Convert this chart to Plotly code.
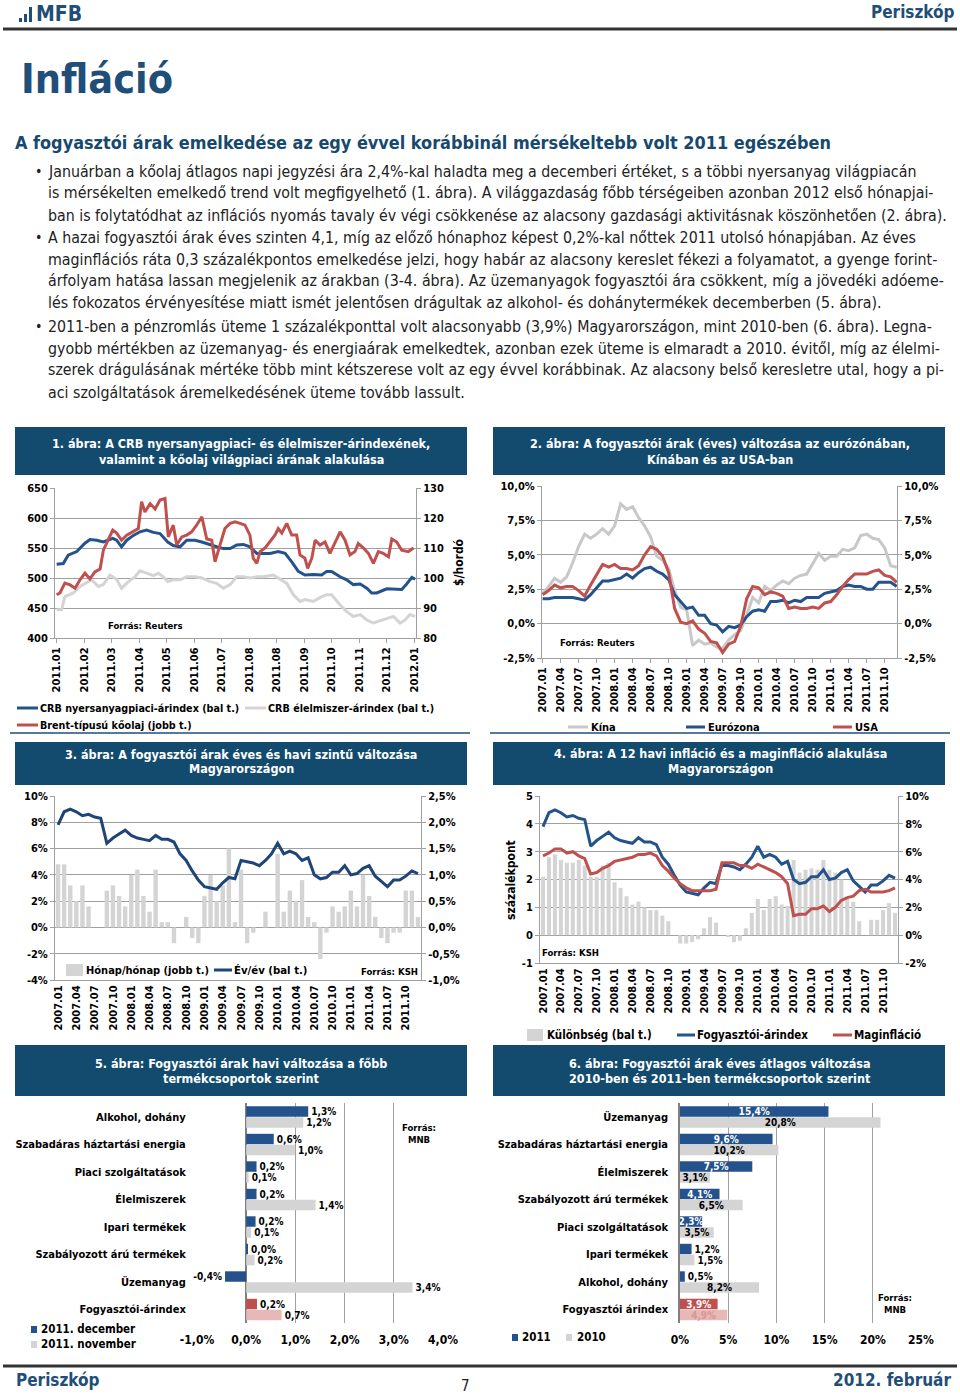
import plotly.graph_objects as go

W, H = 960, 1394

# ======================= DATA =======================
# 1. ábra  (x = position measured in tick-label intervals, 2011.01 = 0)
c1_tick_labels = ["2011.01", "2011.02", "2011.03", "2011.04", "2011.05", "2011.06", "2011.07",
                  "2011.08", "2011.08", "2011.09", "2011.10", "2011.11", "2011.12", "2012.01"]
c1_crb_x = [0, 0.24, 0.42, 0.73, 1.03, 1.21, 1.46, 1.70, 2.04, 2.18, 2.36, 2.55, 2.79, 3.03, 3.27,
            3.52, 3.76, 4.04, 4.24, 4.49, 4.73, 5.03, 5.28, 5.58, 5.82, 6.06, 6.31, 6.55, 6.79, 7.03,
            7.28, 7.52, 7.76, 8.06, 8.31, 8.55, 8.79, 9.03, 9.34, 9.64, 9.82, 10.00, 10.31, 10.55,
            10.79, 11.04, 11.28, 11.46, 11.64, 12.01, 12.37, 12.55, 12.73, 12.92, 13.04]
c1_crb = [523, 524, 538, 544, 558, 564, 563, 560, 566, 563, 552, 563, 571, 577, 580, 576, 574, 560,
          554, 552, 563, 563, 560, 555, 552, 549, 549, 555, 556, 552, 541, 541, 541, 544, 541, 527,
          511, 505, 506, 505, 511, 511, 502, 497, 489, 490, 483, 475, 475, 482, 482, 481, 490, 501, 498]
c1_food_x = [0, 0.18, 0.30, 0.61, 0.85, 1.03, 1.27, 1.52, 1.70, 1.94, 2.18, 2.36, 2.61, 2.85, 3.03,
             3.27, 3.52, 3.70, 3.88, 4.04, 4.24, 4.49, 4.73, 5.03, 5.28, 5.58, 5.82, 6.06, 6.31, 6.55,
             6.79, 7.03, 7.28, 7.52, 7.88, 8.06, 8.37, 8.61, 8.85, 9.03, 9.34, 9.64, 9.82, 10.00,
             10.31, 10.55, 10.79, 11.04, 11.28, 11.52, 11.76, 12.01, 12.25, 12.49, 12.67, 12.85, 13.04]
c1_food = [447, 447, 469, 475, 486, 491, 497, 486, 489, 505, 498, 483, 494, 502, 512, 508, 504, 508,
           502, 494, 497, 497, 502, 502, 500, 494, 491, 483, 489, 502, 502, 500, 502, 502, 505, 500,
           491, 472, 461, 464, 461, 469, 472, 472, 455, 444, 436, 439, 430, 425, 429, 433, 436, 425,
           430, 439, 436]
c1_brent_x = [0, 0.12, 0.30, 0.49, 0.67, 0.85, 1.03, 1.21, 1.39, 1.58, 1.70, 1.88, 2.04, 2.18, 2.36,
              2.55, 2.79, 2.97, 3.09, 3.21, 3.40, 3.58, 3.76, 3.94, 4.06, 4.24, 4.37, 4.55, 4.73,
              4.91, 5.09, 5.28, 5.46, 5.64, 5.76, 5.94, 6.12, 6.31, 6.49, 6.67, 6.85, 7.03, 7.15,
              7.28, 7.40, 7.58, 7.76, 7.94, 8.06, 8.19, 8.37, 8.55, 8.73, 8.85, 9.03, 9.13, 9.28,
              9.40, 9.58, 9.76, 9.94, 10.13, 10.31, 10.49, 10.67, 10.85, 10.97, 11.16, 11.34, 11.52,
              11.70, 11.88, 12.07, 12.19, 12.37, 12.55, 12.79, 12.98]
c1_brent = [94.4, 95, 98.3, 97.7, 96.6, 99.4, 101.6, 99.7, 102, 103, 109.3, 113, 116, 115, 112.6,
            114.3, 115.4, 116.5, 125.4, 122, 124.8, 123, 126, 126.5, 113.7, 117.6, 111, 113.7, 114.3,
            115.4, 117.6, 120.4, 113, 112.6, 105.4, 111, 116.5, 118.2, 118.7, 118.2, 117.6, 114.3,
            106.6, 104.9, 108.8, 110, 112, 114.3, 116.5, 115, 118.2, 114.3, 114.3, 107.7, 106.6,
            103.2, 106.6, 112.6, 111, 112, 108.2, 112, 115.4, 112.6, 107.7, 108.8, 111.5, 110, 108.2,
            104.9, 108.8, 108.2, 107.1, 113, 112, 109.3, 108.8, 110]

# monthly categories 2007.01 - 2011.12
months = [f"{y}.{m:02d}" for y in range(2007, 2012) for m in range(1, 13)]

# 2. ábra
c2_china = [2.2, 2.7, 3.3, 3.0, 3.4, 4.4, 5.6, 6.5, 6.2, 6.5, 6.9, 6.5,
            7.1, 8.7, 8.3, 8.5, 7.7, 7.1, 6.3, 4.9, 4.6, 4.0, 2.4, 1.2,
            1.0, -1.6, -1.2, -1.5, -1.4, -1.7, -1.8, -1.2, -0.8, -0.5, 0.6, 1.9,
            1.5, 2.7, 2.4, 2.8, 3.1, 2.9, 3.3, 3.5, 3.6, 4.4, 5.1, 4.6,
            4.9, 4.9, 5.4, 5.3, 5.5, 6.4, 6.5, 6.2, 6.1, 5.5, 4.2, 4.1]
c2_euro = [1.8, 1.8, 1.9, 1.9, 1.9, 1.9, 1.8, 1.7, 2.1, 2.6, 3.1, 3.1,
           3.2, 3.3, 3.6, 3.3, 3.7, 4.0, 4.1, 3.8, 3.6, 3.2, 2.1, 1.6,
           1.1, 1.2, 0.6, 0.6, 0.0, -0.1, -0.6, -0.2, -0.3, -0.1, 0.5, 0.9,
           1.0, 0.9, 1.6, 1.6, 1.7, 1.5, 1.7, 1.6, 1.9, 1.9, 1.9, 2.2,
           2.3, 2.4, 2.7, 2.8, 2.7, 2.7, 2.5, 2.5, 3.0, 3.0, 3.0, 2.7]
c2_usa = [2.1, 2.4, 2.8, 2.6, 2.7, 2.7, 2.4, 2.0, 2.8, 3.5, 4.3, 4.1,
          4.3, 4.0, 4.0, 3.9, 4.2, 5.0, 5.6, 5.4, 4.9, 3.7, 1.1, 0.1,
          0.0, 0.2, -0.4, -0.7, -1.3, -1.4, -2.1, -1.5, -1.3, -0.2, 1.8, 2.7,
          2.6, 2.1, 2.3, 2.2, 2.0, 1.1, 1.2, 1.1, 1.1, 1.2, 1.1, 1.5,
          1.6, 2.1, 2.7, 3.2, 3.6, 3.6, 3.6, 3.8, 3.9, 3.5, 3.4, 3.0]

# 3. és 4. ábra (Magyarország)
hu_cpi_yoy = [7.8, 8.8, 9.0, 8.8, 8.5, 8.6, 8.4, 8.3, 6.4, 6.8, 7.1, 7.4,
              7.0, 6.8, 6.7, 6.6, 7.0, 6.7, 6.7, 6.5, 5.6, 5.1, 4.3, 3.6,
              3.1, 3.0, 2.9, 3.4, 3.8, 3.7, 5.1, 5.0, 4.9, 4.7, 5.1, 5.6,
              6.4, 5.6, 5.8, 5.6, 5.1, 5.3, 4.0, 3.7, 3.8, 4.2, 4.2, 4.7,
              4.0, 4.1, 4.5, 4.7, 3.9, 3.5, 3.1, 3.6, 3.6, 3.9, 4.3, 4.1]
hu_cpi_mom = [1.2, 1.2, 0.8, 0.5, 0.8, 0.4, 0.0, 0.0, 0.7, 0.8, 0.6, 0.4,
              1.0, 1.1, 0.6, 0.3, 1.1, 0.1, 0.1, -0.3, 0.0, 0.2, -0.2, -0.3,
              0.6, 1.0, 0.5, 0.8, 1.5, 0.1, 1.1, -0.3, -0.1, 0.0, 0.3, 0.0,
              1.4, 0.3, 0.7, 0.5, 0.9, 0.2, 0.1, -0.6, -0.1, 0.4, 0.3, 0.4,
              0.7, 0.4, 1.0, 0.6, 0.2, -0.2, -0.3, -0.1, -0.1, 0.7, 0.7, 0.2]
hu_core = [5.7, 5.9, 6.2, 6.2, 5.9, 6.0, 5.7, 5.5, 4.4, 4.5, 4.8, 5.0,
           5.3, 5.4, 5.5, 5.6, 5.8, 5.8, 5.9, 5.7, 5.0, 4.6, 4.1, 3.7,
           3.4, 3.2, 3.2, 3.2, 3.2, 3.3, 5.2, 5.2, 5.2, 5.0, 5.0, 4.8,
           5.1, 4.9, 4.7, 4.5, 4.2, 3.7, 1.4, 1.5, 1.5, 1.9, 1.9, 2.1,
           1.7, 2.0, 2.5, 2.7, 2.8, 3.2, 3.3, 3.1, 3.1, 3.1, 3.2, 3.4]
hu_diff = [2.1, 2.8, 2.9, 2.7, 2.6, 2.6, 2.7, 2.5, 2.1, 2.1, 2.5, 2.6,
           1.9, 1.7, 1.4, 1.1, 1.2, 1.0, 0.9, 0.9, 0.7, 0.5, 0.0, -0.3,
           -0.3, -0.25, -0.15, 0.25, 0.65, 0.45, 0.0, -0.05, -0.25, -0.2, 0.25, 0.8,
           1.3, 0.9, 1.3, 1.4, 1.1, 1.05, 2.7, 2.25, 2.35, 2.4, 2.35, 2.7,
           2.35, 2.25, 2.0, 1.3, 1.2, 0.5, 0.0, 0.55, 0.55, 0.9, 1.15, 0.8]

# 5. ábra
c5_cats = ["Alkohol, dohány", "Szabadáras háztartási energia", "Piaci szolgáltatások",
           "Élelmiszerek", "Ipari termékek", "Szabályozott árú termékek", "Üzemanyag",
           "Fogyasztói-árindex"]
c5_dec = [1.26, 0.56, 0.21, 0.21, 0.19, 0.03, -0.43, 0.22]
c5_nov = [1.16, 0.99, 0.05, 1.41, 0.1, 0.17, 3.38, 0.72]
c5_dec_labels = ["1,3%", "0,6%", "0,2%", "0,2%", "0,2%", "0,0%", "-0,4%", "0,2%"]
c5_nov_labels = ["1,2%", "1,0%", "0,1%", "1,4%", "0,1%", "0,2%", "3,4%", "0,7%"]

# 6. ábra
c6_cats = ["Üzemanyag", "Szabadáras háztartási energia", "Élelmiszerek",
           "Szabályozott árú termékek", "Piaci szolgáltatások", "Ipari termékek",
           "Alkohol, dohány", "Fogyasztói árindex"]
c6_2011 = [15.4, 9.6, 7.5, 4.1, 2.3, 1.2, 0.5, 3.9]
c6_2010 = [20.8, 10.2, 3.1, 6.5, 3.5, 1.5, 8.2, 4.9]

# ======================= STYLE =======================
CF = "DejaVu Sans Condensed, DejaVu Sans, sans-serif"   # chart font
BF = "DejaVu Sans Condensed, DejaVu Sans, sans-serif"   # body font
NAVY = "#1F4E79"
HEAD = "#124B6E"
BLUE = "#24528C"
DBLUE = "#1F4478"
RED = "#C0504D"
PINK = "#E6B9B8"
LGRAY = "#D4D4D4"
KGRAY = "#C8C8C8"
GRID = "#A0A0A0"
TF = dict(family=CF, size=11, color="#000000", weight="bold")


def X(v):
    return v / W


def Y(v):
    return 1 - v / H


def xdom(l, r):
    return [X(l), X(r)]


def ydom(t, b):
    return [Y(b), Y(t)]


def fmt_pct(v):
    return f"{v:.1f}".replace(".", ",") + "%"


def yax(dom, anchor, rng, vals, texts, side="left", overlaying=None, grid=True, ticks="outside"):
    d = dict(domain=dom, anchor=anchor, range=rng, tickvals=vals, ticktext=texts, side=side,
             showgrid=grid, gridcolor=GRID, gridwidth=1, zeroline=False, showline=True,
             linecolor=GRID, linewidth=1, ticks=ticks, ticklen=4, tickcolor=GRID,
             tickfont=TF, fixedrange=True, automargin=False)
    if overlaying:
        d["overlaying"] = overlaying
    return d


def xax(dom, anchor, rng, vals, texts, typ="linear", angle=-90, ticks="outside"):
    return dict(domain=dom, anchor=anchor, range=rng, type=typ, tickvals=vals, ticktext=texts,
                tickangle=angle, showgrid=False, zeroline=False, showline=True, linecolor=GRID,
                linewidth=1, ticks=ticks, ticklen=4, tickcolor=GRID, tickfont=TF, fixedrange=True,
                automargin=False)


annotations = []
shapes = []


def txt(text, x, y, size=11, color="#000000", bold=True, xanchor="left", yanchor="middle",
        angle=0, family=CF, align="left"):
    annotations.append(dict(text=f"<b>{text}</b>" if bold else text, x=X(x), y=Y(y),
                            xref="paper", yref="paper", showarrow=False, xanchor=xanchor,
                            yanchor=yanchor, textangle=angle, align=align,
                            font=dict(family=family, size=size, color=color)))


def hline(x0, x1, y, color, width=3):
    shapes.append(dict(type="line", xref="paper", yref="paper", x0=X(x0), x1=X(x1),
                       y0=Y(y), y1=Y(y), line=dict(color=color, width=width)))


def box(x0, y0, x1, y1, color):
    shapes.append(dict(type="rect", xref="paper", yref="paper", x0=X(x0), x1=X(x1),
                       y0=Y(y1), y1=Y(y0), fillcolor=color, line=dict(width=0), layer="below"))


fig = go.Figure()

# ---------------- Chart 1 ----------------
fig.add_trace(go.Scatter(x=c1_food_x, y=c1_food, mode="lines", line=dict(color=LGRAY, width=3),
                         xaxis="x", yaxis="y", hoverinfo="skip"))
fig.add_trace(go.Scatter(x=c1_crb_x, y=c1_crb, mode="lines", line=dict(color=BLUE, width=3),
                         xaxis="x", yaxis="y", hoverinfo="skip"))
fig.add_trace(go.Scatter(x=c1_brent_x, y=c1_brent, mode="lines", line=dict(color=RED, width=3),
                         xaxis="x", yaxis="y2", hoverinfo="skip"))

# ---------------- Chart 2 ----------------
fig.add_trace(go.Scatter(x=months, y=c2_china, mode="lines", line=dict(color=KGRAY, width=3),
                         xaxis="x2", yaxis="y3", hoverinfo="skip"))
fig.add_trace(go.Scatter(x=months, y=c2_euro, mode="lines", line=dict(color=BLUE, width=3),
                         xaxis="x2", yaxis="y3", hoverinfo="skip"))
fig.add_trace(go.Scatter(x=months, y=c2_usa, mode="lines", line=dict(color=RED, width=3),
                         xaxis="x2", yaxis="y4", hoverinfo="skip"))

# ---------------- Chart 3 ----------------
fig.add_trace(go.Bar(x=months, y=hu_cpi_mom, marker=dict(color=LGRAY, line=dict(width=0)),
                     width=0.72, xaxis="x3", yaxis="y5", hoverinfo="skip"))
fig.add_trace(go.Scatter(x=months, y=hu_cpi_yoy, mode="lines", line=dict(color=DBLUE, width=3),
                         xaxis="x3", yaxis="y6", hoverinfo="skip"))

# ---------------- Chart 4 ----------------
fig.add_trace(go.Bar(x=months, y=hu_diff, marker=dict(color=LGRAY, line=dict(width=0)),
                     width=0.68, xaxis="x4", yaxis="y7", hoverinfo="skip"))
fig.add_trace(go.Scatter(x=months, y=hu_cpi_yoy, mode="lines", line=dict(color=BLUE, width=3),
                         xaxis="x4", yaxis="y8", hoverinfo="skip"))
fig.add_trace(go.Scatter(x=months, y=hu_core, mode="lines", line=dict(color=RED, width=3),
                         xaxis="x4", yaxis="y8", hoverinfo="skip"))

# ---------------- Chart 5 ----------------
c5_dec_colors = [BLUE] * 7 + [RED]
c5_nov_colors = [LGRAY] * 7 + [PINK]
fig.add_trace(go.Bar(y=c5_cats, x=c5_dec, orientation="h", width=0.38, offset=-0.38,
                     marker=dict(color=c5_dec_colors, line=dict(width=0)), text=c5_dec_labels,
                     textposition="outside", constraintext="none", cliponaxis=False,
                     textfont=dict(family=CF, size=10, color="#000", weight="bold"),
                     xaxis="x5", yaxis="y9", hoverinfo="skip"))
fig.add_trace(go.Bar(y=c5_cats, x=c5_nov, orientation="h", width=0.38, offset=0.02,
                     marker=dict(color=c5_nov_colors, line=dict(width=0)), text=c5_nov_labels,
                     textposition="outside", constraintext="none", cliponaxis=False,
                     textfont=dict(family=CF, size=10, color="#000", weight="bold"),
                     xaxis="x5", yaxis="y9", hoverinfo="skip"))

# ---------------- Chart 6 ----------------
c6_11_colors = [BLUE] * 7 + [RED]
c6_10_colors = [LGRAY] * 7 + [PINK]
c6_11_pos = ["inside", "inside", "inside", "inside", "inside", "outside", "outside", "inside"]
c6_10_pos = ["inside", "inside", "inside", "inside", "inside", "outside", "inside", "inside"]
c6_11_tc = ["white"] * 5 + ["#000", "#000", "white"]
c6_10_tc = ["#000"] * 7 + ["#D99694"]
fig.add_trace(go.Bar(y=c6_cats, x=c6_2011, orientation="h", width=0.38, offset=-0.38,
                     marker=dict(color=c6_11_colors, line=dict(width=0)),
                     text=[fmt_pct(v) for v in c6_2011], textposition=c6_11_pos,
                     insidetextanchor="middle", constraintext="none", cliponaxis=False,
                     textfont=dict(family=CF, size=10, color=c6_11_tc, weight="bold"),
                     xaxis="x6", yaxis="y10", hoverinfo="skip"))
fig.add_trace(go.Bar(y=c6_cats, x=c6_2010, orientation="h", width=0.38, offset=0.02,
                     marker=dict(color=c6_10_colors, line=dict(width=0)),
                     text=[fmt_pct(v) for v in c6_2010], textposition=c6_10_pos,
                     insidetextanchor="middle", constraintext="none", cliponaxis=False,
                     textfont=dict(family=CF, size=10, color=c6_10_tc, weight="bold"),
                     xaxis="x6", yaxis="y10", hoverinfo="skip"))

# ======================= AXES =======================
lay = {}
# chart 1
lay["xaxis"] = xax(xdom(55, 416), "y", [-0.06, 13.07], list(range(len(c1_tick_labels))),
                   c1_tick_labels)
lay["yaxis"] = yax(ydom(488, 638), "x", [400, 650], [400, 450, 500, 550, 600, 650],
                   ["400", "450", "500", "550", "600", "650"])
lay["yaxis2"] = yax(ydom(488, 638), "x", [80, 130], [80, 90, 100, 110, 120, 130],
                    ["80", "90", "100", "110", "120", "130"], side="right", overlaying="y",
                    grid=False)
# chart 2
lay["xaxis2"] = xax(xdom(542, 897), "y3", [-0.1, 59.05], months[::3], months[::3], typ="category")
c2_vals = [-2.5, 0, 2.5, 5, 7.5, 10]
c2_txt = ["-2,5%", "0,0%", "2,5%", "5,0%", "7,5%", "10,0%"]
lay["yaxis3"] = yax(ydom(486, 658), "x2", [-2.5, 10], c2_vals, c2_txt)
lay["yaxis4"] = yax(ydom(486, 658), "x2", [-2.5, 10], c2_vals, c2_txt, side="right",
                    overlaying="y3", grid=False)
# chart 3
lay["xaxis3"] = xax(xdom(55, 421), "y5", [-0.5, 59.5], months[::3], months[::3], typ="category",
                    ticks="")
lay["yaxis5"] = yax(ydom(796, 980), "x3", [-1, 2.5], [-1, -0.5, 0, 0.5, 1, 1.5, 2, 2.5],
                    ["-1,0%", "-0,5%", "0,0%", "0,5%", "1,0%", "1,5%", "2,0%", "2,5%"],
                    side="right")
lay["yaxis6"] = yax(ydom(796, 980), "x3", [-4, 10], [-4, -2, 0, 2, 4, 6, 8, 10],
                    ["-4%", "-2%", "0%", "2%", "4%", "6%", "8%", "10%"], side="left",
                    overlaying="y5", grid=False)
# chart 4
lay["xaxis4"] = xax(xdom(540, 898), "y7", [-0.5, 59.5], months[::3], months[::3], typ="category",
                    ticks="")
lay["yaxis7"] = yax(ydom(796, 963), "x4", [-1, 5], [-1, 0, 1, 2, 3, 4, 5],
                    ["-1", "0", "1", "2", "3", "4", "5"], side="left")
lay["yaxis8"] = yax(ydom(796, 963), "x4", [-2, 10], [-2, 0, 2, 4, 6, 8, 10],
                    ["-2%", "0%", "2%", "4%", "6%", "8%", "10%"], side="right",
                    overlaying="y7", grid=False)
# chart 5
lay["xaxis5"] = dict(domain=xdom(197, 443), anchor="y9", range=[-1, 4],
                     tickvals=[-1, 0, 1, 2, 3, 4],
                     ticktext=["-1,0%", "0,0%", "1,0%", "2,0%", "3,0%", "4,0%"],
                     showgrid=True, gridcolor=GRID, zeroline=True, zerolinecolor="#808080",
                     zerolinewidth=1.5, showline=False, ticks="outside", ticklen=6,
                     tickcolor="rgba(0,0,0,0)", tickfont=dict(family=CF, size=12, color="#000",
                                                               weight="bold"),
                     fixedrange=True, automargin=False)
lay["yaxis9"] = dict(domain=ydom(1103, 1323), anchor="x5", type="category", autorange="reversed",
                     showgrid=False, zeroline=False, showline=False, ticks="outside", ticklen=8,
                     tickcolor="rgba(0,0,0,0)", tickfont=dict(family=CF, size=11, color="#000",
                                                               weight="bold"),
                     fixedrange=True, automargin=False)
# chart 6
lay["xaxis6"] = dict(domain=xdom(680, 921), anchor="y10", range=[0, 25],
                     tickvals=[0, 5, 10, 15, 20, 25],
                     ticktext=["0%", "5%", "10%", "15%", "20%", "25%"],
                     showgrid=True, gridcolor=GRID, zeroline=False, showline=False,
                     ticks="outside", ticklen=6, tickcolor="rgba(0,0,0,0)",
                     tickfont=dict(family=CF, size=12, color="#000", weight="bold"),
                     fixedrange=True, automargin=False)
lay["yaxis10"] = dict(domain=ydom(1103, 1323), anchor="x6", type="category", autorange="reversed",
                      showgrid=False, zeroline=False, showline=True, linecolor="#808080",
                      linewidth=1.5, ticks="outside", ticklen=8, tickcolor="rgba(0,0,0,0)",
                      tickfont=dict(family=CF, size=11, color="#000", weight="bold"),
                      fixedrange=True, automargin=False)

# ======================= PAGE DECORATION =======================
# top header logo
shapes.append(dict(type="rect", xref="paper", yref="paper", x0=X(19), x1=X(22), y0=Y(22), y1=Y(18),
                   fillcolor=NAVY, line=dict(width=0)))
shapes.append(dict(type="rect", xref="paper", yref="paper", x0=X(24), x1=X(27), y0=Y(22), y1=Y(14),
                   fillcolor=NAVY, line=dict(width=0)))
shapes.append(dict(type="rect", xref="paper", yref="paper", x0=X(29), x1=X(32), y0=Y(22), y1=Y(7),
                   fillcolor=NAVY, line=dict(width=0)))
txt("MFB", 34, 14, size=21, color=NAVY, family=BF)
txt("Periszkóp", 957, 12, size=17, color=NAVY, xanchor="right", family=BF)
hline(3, 957, 29, "#333333", width=3)

txt("Infláció", 19, 79, size=41, color=NAVY, family=BF)
txt("A fogyasztói árak emelkedése az egy évvel korábbinál mérsékeltebb volt 2011 egészében",
    13, 143, size=17.9, color="#17496E", family=BF)

body_lines = [
    (171, True, "Januárban a kőolaj átlagos napi jegyzési ára 2,4%-kal haladta meg a decemberi értéket, s a többi nyersanyag világpiacán"),
    (193, False, "is mérsékelten emelkedő trend volt megfigyelhető (1. ábra). A világgazdaság főbb térségeiben azonban 2012 első hónapjai-"),
    (215, False, "ban is folytatódhat az inflációs nyomás tavaly év végi csökkenése az alacsony gazdasági aktivitásnak köszönhetően (2. ábra)."),
    (237, True, "A hazai fogyasztói árak éves szinten 4,1, míg az előző hónaphoz képest 0,2%-kal nőttek 2011 utolsó hónapjában. Az éves"),
    (259, False, "maginflációs ráta 0,3 százalékpontos emelkedése jelzi, hogy habár az alacsony kereslet fékezi a folyamatot, a gyenge forint-"),
    (281, False, "árfolyam hatása lassan megjelenik az árakban (3-4. ábra). Az üzemanyagok fogyasztói ára csökkent, míg a jövedéki adóeme-"),
    (303, False, "lés fokozatos érvényesítése miatt ismét jelentősen drágultak az alkohol- és dohánytermékek decemberben (5. ábra)."),
    (326, True, "2011-ben a pénzromlás üteme 1 százalékponttal volt alacsonyabb (3,9%) Magyarországon, mint 2010-ben (6. ábra). Legna-"),
    (348, False, "gyobb mértékben az üzemanyag- és energiaárak emelkedtek, azonban ezek üteme is elmaradt a 2010. évitől, míg az élelmi-"),
    (370, False, "szerek drágulásának mértéke több mint kétszerese volt az egy évvel korábbinak. Az alacsony belső keresletre utal, hogy a pi-"),
    (392, False, "aci szolgáltatások áremelkedésének üteme tovább lassult."),
]
for yy, bullet, line in body_lines:
    if bullet:
        txt("•", 33, yy, size=14, color="#222222", bold=False, family=BF)
    txt(line, 46, yy, size=15.8, color="#222222", bold=False, family=BF)

# chart headers
headers = [
    (15, 467, 427, 475, 241, 444, 459, "1. ábra: A CRB nyersanyagpiaci- és élelmiszer-árindexének,",
     "valamint a kőolaj világpiaci árának alakulása"),
    (493, 945, 427, 475, 720, 444, 459, "2. ábra: A fogyasztói árak (éves) változása az eurózónában,",
     "Kínában és az USA-ban"),
    (15, 467, 742, 785, 241, 754, 768, "3. ábra: A fogyasztói árak éves és havi szintű változása",
     "Magyarországon"),
    (493, 945, 742, 785, 720, 753, 768, "4. ábra: A 12 havi infláció és a maginfláció alakulása",
     "Magyarországon"),
    (15, 467, 1045, 1096, 241, 1063, 1078, "5. ábra: Fogyasztói árak havi változása a főbb",
     "termékcsoportok szerint"),
    (493, 945, 1045, 1096, 720, 1063, 1078, "6. ábra: Fogyasztói árak éves átlagos változása",
     "2010-ben és 2011-ben termékcsoportok szerint"),
]
for x0, x1, y0, y1, cx, l1y, l2y, t1, t2 in headers:
    box(x0, y0, x1, y1, HEAD)
    txt(t1, cx, l1y, size=12.5, color="white", xanchor="center")
    txt(t2, cx, l2y, size=12.5, color="white", xanchor="center")

# chart 1 extras
txt("$/hordó", 459, 563, size=12, angle=-90, xanchor="center")
txt("Forrás: Reuters", 145, 625, size=9.5, xanchor="center")
hline(17, 38, 708, BLUE)
txt("CRB nyersanyagpiaci-árindex (bal t.)", 38, 708, size=10.7)
hline(245, 266, 708, LGRAY)
txt("CRB élelmiszer-árindex (bal t.)", 266, 708, size=10.7)
hline(17, 38, 725, RED)
txt("Brent-típusú kőolaj (jobb t.)", 38, 725, size=10.7)
hline(10, 470, 733, NAVY, width=1.5)

# chart 2 extras
txt("Forrás: Reuters", 597, 642, size=9.5, xanchor="center")
hline(568, 588, 727, KGRAY)
txt("Kína", 589, 727, size=11)
hline(686, 705, 727, BLUE)
txt("Eurózona", 706, 727, size=11)
hline(833, 852, 727, RED)
txt("USA", 853, 727, size=11)
hline(490, 950, 733, NAVY, width=1.5)

# chart 3 extras
box(66, 964, 83, 976, LGRAY)
txt("Hónap/hónap (jobb t.)", 84, 970, size=11)
hline(214, 232, 970, DBLUE)
txt("Év/év (bal t.)", 232, 970, size=11.3)
txt("Forrás: KSH", 389, 971, size=9.5, xanchor="center")

# chart 4 extras
txt("százalékpont", 511, 880, size=12, angle=-90, xanchor="center")
txt("Forrás: KSH", 570, 952, size=9.5, xanchor="center")
box(527, 1029, 543, 1041, LGRAY)
txt("Különbség (bal t.)", 545, 1035, size=11.5)
hline(677, 695, 1035, BLUE)
txt("Fogyasztói-árindex", 695, 1035, size=11.5)
hline(833, 852, 1035, RED)
txt("Maginfláció", 852, 1035, size=11.5)

# chart 5 extras
txt("Forrás:<br>MNB", 419, 1133, size=9.5, xanchor="center", align="center")
box(31, 1326, 37, 1333, BLUE)
txt("2011. december", 39, 1329, size=11.5)
box(31, 1341, 37, 1348, LGRAY)
txt("2011. november", 39, 1344, size=11.5)

# chart 6 extras
txt("Forrás:<br>MNB", 895, 1303, size=9.5, xanchor="center", align="center")
box(512, 1334, 518, 1341, BLUE)
txt("2011", 520, 1337, size=11.5)
box(566, 1334, 572, 1341, LGRAY)
txt("2010", 575, 1337, size=11.5)

# footer
hline(3, 957, 1366, "#333333", width=3)
txt("Periszkóp", 14, 1380, size=17, color=NAVY, family=BF)
txt("7", 465, 1386, size=15, color="#222222", bold=False, xanchor="center", family=BF)
txt("2012. február", 953, 1380, size=17, color=NAVY, xanchor="right", family=BF)

fig.update_layout(
    template="none",
    width=W, height=H, autosize=False, margin=dict(l=0, r=0, t=0, b=0, pad=0),
    paper_bgcolor="white", plot_bgcolor="white", showlegend=False,
    barmode="overlay", annotations=annotations, shapes=shapes,
    font=dict(family=CF, size=11, color="#000"), **lay)

fig.write_html("out.html", config={"displayModeBar": False, "responsive": False},
               post_script="document.body.style.margin='0';document.body.style.padding='0';"
                           "document.body.style.overflow='hidden';"
                           "document.documentElement.style.overflow='hidden';")
